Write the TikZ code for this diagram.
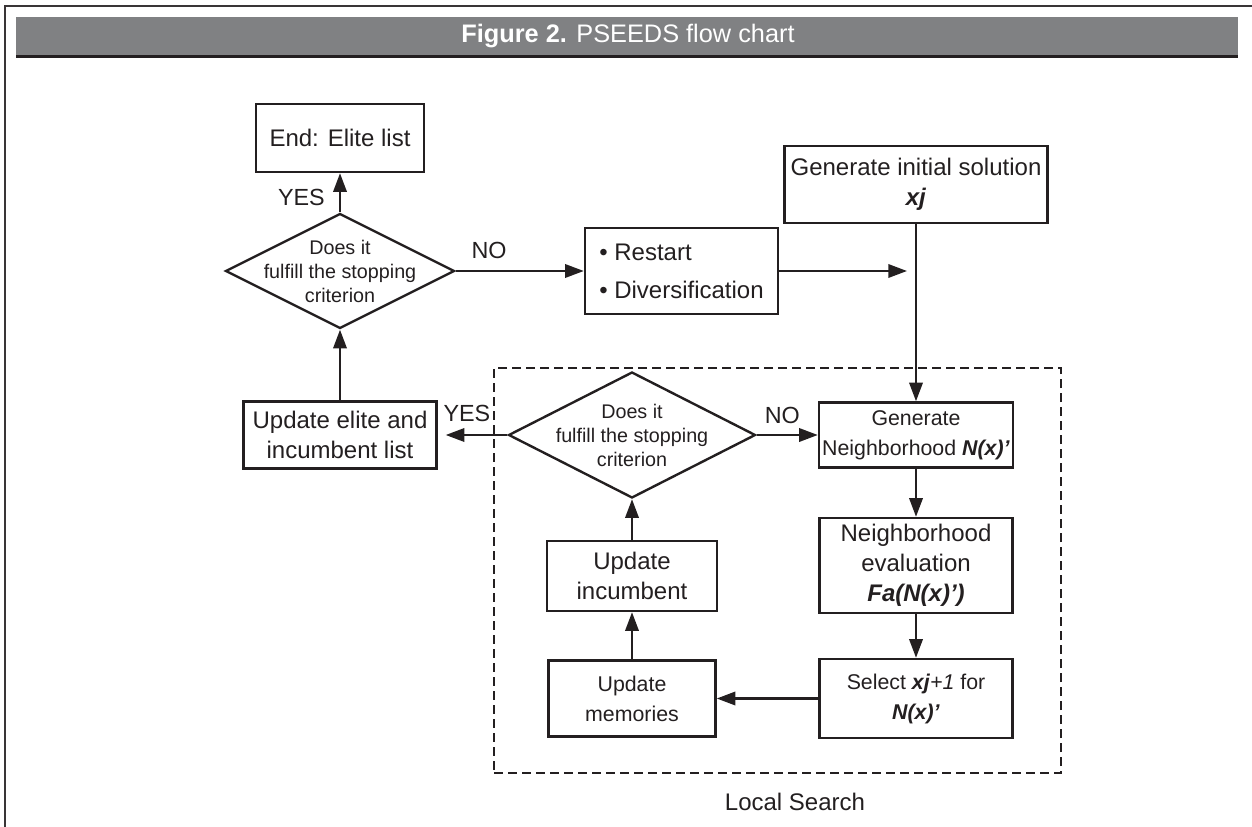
\documentclass[tikz,border=0pt]{standalone}
\usepackage{fontspec}
\setmainfont{Liberation Sans}
\usetikzlibrary{shapes.geometric,arrows.meta}

\definecolor{inkline}{HTML}{231F20}
\definecolor{headgray}{RGB}{128,129,131}

\tikzset{
  flowbox/.style={draw=inkline, line width=1.8pt, inner sep=0pt, align=center,
    text=inkline, font=\fontsize{18}{22.5}\selectfont},
  smallbox/.style={flowbox, font=\fontsize{16}{22.5}\selectfont},
  decision/.style={diamond, draw=inkline, line width=1.8pt, inner sep=0pt},
  dtext/.style={align=center, text=inkline, inner sep=0pt,
    font=\fontsize{14.8}{18}\selectfont},
  yesno/.style={text=inkline, inner sep=0pt, font=\fontsize{17.5}{20}\selectfont},
  arr/.style={draw=inkline, line width=1.8pt, -{Triangle[length=14pt,width=10pt]}},
  lsbox/.style={draw=inkline, line width=1.8pt, dash pattern=on 7pt off 3.5pt}
}

\begin{document}
\begin{tikzpicture}[x=0.75pt, y=-0.75pt]
\useasboundingbox (0,0) rectangle (1252,827);

% Frame and header bar
\draw[inkline!90, line width=2.2pt] (5,827) -- (5,6) -- (1252,6);
\fill[headgray] (16,17) rectangle (1238,55);
\draw[inkline, line width=2.4pt] (16,56.5) -- (1238,56.5);
\node[text=white, font=\fontsize{19}{22}\selectfont] (title) at (628,36)
  {\textbf{Figure 2.} PSEEDS flow chart};

% Outer loop (left column and restart)
\node[flowbox, minimum width=126pt, minimum height=51pt] (endlist) at (340,138) {End: Elite list};
\node[decision, minimum width=171.75pt, minimum height=86.25pt,
  label={[dtext]center:Does it\\fulfill the stopping\\criterion}] (stopa) at (340,271) {};
\node[flowbox, align=left, font=\fontsize{18}{28.5}\selectfont,
  minimum width=144.75pt, minimum height=64.5pt] (restart) at (681.5,271) {• Restart\\• Diversification};
\node[flowbox, minimum width=144.75pt, minimum height=50.25pt] (elite) at (340,435) {Update elite and\\incumbent list};
\node[flowbox, minimum width=197.25pt, minimum height=57.75pt] (initsol) at (916,184.5)
  {Generate initial solution\\\textbf{\textit{xj}}};
\coordinate (joinpt) at (907,271);

% Local search block
\node[lsbox, minimum width=425.25pt, minimum height=303.75pt] (localsearch) at (777.5,570.5) {};
\node[yesno, font=\fontsize{18}{21}\selectfont] (lslabel) at (795,802) {Local Search};

\node[decision, minimum width=185.25pt, minimum height=94.5pt,
  label={[dtext]center:Does it\\fulfill the stopping\\criterion}] (stopb) at (632,435) {};
\node[smallbox, minimum width=145.5pt, minimum height=48.75pt] (genN) at (916,435)
  {Generate\\Neighborhood \textbf{\textit{N(x)'}}};
\node[flowbox, minimum width=144.75pt, minimum height=71.25pt] (evalN) at (916,565.5)
  {Neighborhood\\evaluation\\\textbf{\textit{Fa(N(x)')}}};
\node[smallbox, minimum width=144.75pt, minimum height=59.25pt] (selectx) at (916,698.5)
  {Select \textbf{\textit{xj}}\textit{+1} for\\\textbf{\textit{N(x)'}}};
\node[smallbox, minimum width=125.25pt, minimum height=57pt] (memories) at (632,698.5) {Update\\memories};
\node[flowbox, minimum width=127.5pt, minimum height=52.5pt] (incumbent) at (632,576) {Update\\incumbent};

% Connectors
\draw[arr] (stopa) -- node[yesno, pos=0.37, left=10.5pt] {YES} (endlist);
\draw[arr] (stopa) -- node[yesno, pos=0.26, above=8pt] {NO} (restart);
\draw[arr] (restart) -- (joinpt);
\draw[arr] (initsol) -- (genN);
\draw[arr] (genN) -- (evalN);
\draw[arr] (evalN) -- (selectx);
\draw[arr] (selectx) -- (memories);
\draw[arr] (memories) -- (incumbent);
\draw[arr] (incumbent) -- (stopb);
\draw[arr] (stopb) -- node[yesno, pos=0.42, above=7.5pt] {NO} (genN);
\draw[arr, shorten >=6pt] (stopb) -- node[yesno, pos=0.58, above=9pt] {YES} (elite);
\draw[arr] (elite) -- (stopa);

\end{tikzpicture}
\end{document}
